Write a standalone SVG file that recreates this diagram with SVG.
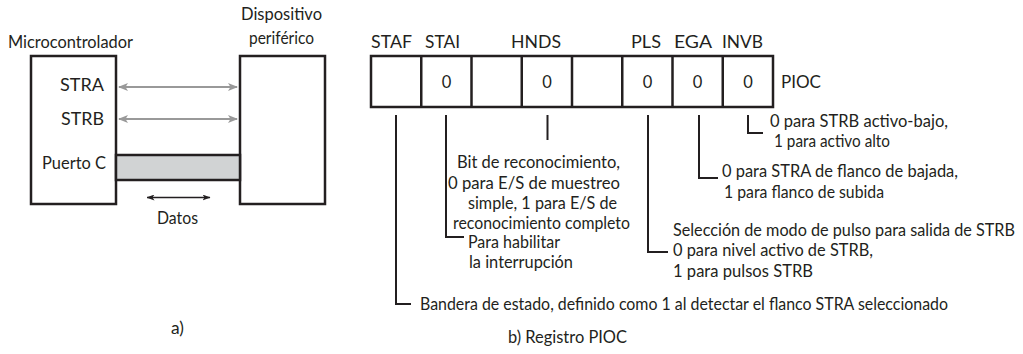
<svg xmlns="http://www.w3.org/2000/svg" width="1023" height="354" viewBox="0 0 1023 354">
<style>
text{font-family:Lato,"Open Sans","Liberation Sans",sans-serif;font-size:16.5px;fill:#231f20}
.box{fill:#fff;stroke:#231f20;stroke-width:2.5}
.cell{fill:none;stroke:#231f20;stroke-width:2.5}
.lead{fill:none;stroke:#231f20;stroke-width:2}
.garr{stroke:#999;stroke-width:2;fill:none}
.z{text-anchor:middle}
</style>
<defs>
<marker id="gh" viewBox="0 0 10 8" refX="9" refY="4" markerWidth="10" markerHeight="8" markerUnits="userSpaceOnUse" orient="auto-start-reverse">
<path d="M0,0 L10,4 L0,8 L2.5,4 Z" fill="#999"/>
</marker>
<marker id="bh" viewBox="0 0 8 6" refX="7.5" refY="3" markerWidth="8" markerHeight="6" markerUnits="userSpaceOnUse" orient="auto-start-reverse">
<path d="M0,0 L8,3 L0,6 L2,3 Z" fill="#231f20"/>
</marker>
</defs>
<rect width="1023" height="354" fill="#fff"/>

<g id="microcontrolador">
<rect class="box" x="31" y="56" width="85" height="148"/>
<text x="8" y="48" textLength="125" lengthAdjust="spacingAndGlyphs">Microcontrolador</text>
<text x="60" y="91" textLength="44" lengthAdjust="spacingAndGlyphs">STRA</text>
<text x="61" y="125" textLength="43" lengthAdjust="spacingAndGlyphs">STRB</text>
<text x="42" y="169" textLength="64" lengthAdjust="spacingAndGlyphs">Puerto C</text>
</g>
<g id="periferico">
<rect class="box" x="240" y="56" width="85" height="148"/>
<text x="241" y="20" textLength="81" lengthAdjust="spacingAndGlyphs">Dispositivo</text>
<text x="249" y="44" textLength="65" lengthAdjust="spacingAndGlyphs">periférico</text>
</g>
<g id="puerto-c-bus">
<rect x="116" y="155" width="124" height="25" fill="#d1d3d4" stroke="#231f20" stroke-width="2.5"/>
</g>
<g id="datos">
<text x="157" y="224" textLength="41" lengthAdjust="spacingAndGlyphs">Datos</text>
</g>
<g id="caption-a">
<text x="171" y="334" textLength="13" lengthAdjust="spacingAndGlyphs">a)</text>
</g>

<g id="registro-pioc">
<rect class="cell" x="371" y="56" width="402" height="51"/>
<path class="cell" d="M421.25 56V107M471.5 56V107M521.75 56V107M572 56V107M622.25 56V107M672.5 56V107M722.75 56V107"/>
<text class="z" x="446.5" y="87.5">0</text>
<text class="z" x="547" y="87.5">0</text>
<text class="z" x="647.5" y="87.5">0</text>
<text class="z" x="697.5" y="87.5">0</text>
<text class="z" x="748" y="87.5">0</text>
<text x="371" y="47.5" textLength="41" lengthAdjust="spacingAndGlyphs">STAF</text>
<text x="425" y="47.5" textLength="35" lengthAdjust="spacingAndGlyphs">STAI</text>
<text x="511" y="47.5" textLength="50" lengthAdjust="spacingAndGlyphs">HNDS</text>
<text x="631" y="47.5" textLength="30" lengthAdjust="spacingAndGlyphs">PLS</text>
<text x="674" y="47.5" textLength="38" lengthAdjust="spacingAndGlyphs">EGA</text>
<text x="722" y="47.5" textLength="41" lengthAdjust="spacingAndGlyphs">INVB</text>
<text x="781" y="88" textLength="40" lengthAdjust="spacingAndGlyphs">PIOC</text>
</g>

<g id="nota-invb">
<text x="770" y="127" textLength="178" lengthAdjust="spacingAndGlyphs">0 para STRB activo-bajo,</text>
<text x="774" y="147" textLength="116" lengthAdjust="spacingAndGlyphs">1 para activo alto</text>
</g>
<g id="nota-ega">
<text x="722" y="177" textLength="236" lengthAdjust="spacingAndGlyphs">0 para STRA de flanco de bajada,</text>
<text x="724" y="198" textLength="160" lengthAdjust="spacingAndGlyphs">1 para flanco de subida</text>
</g>
<g id="nota-pls">
<text x="673" y="236" textLength="342" lengthAdjust="spacingAndGlyphs">Selección de modo de pulso para salida de STRB</text>
<text x="673" y="256" textLength="200" lengthAdjust="spacingAndGlyphs">0 para nivel activo de STRB,</text>
<text x="673" y="277" textLength="140" lengthAdjust="spacingAndGlyphs">1 para pulsos STRB</text>
</g>
<g id="nota-hnds">
<text x="457" y="168" textLength="163" lengthAdjust="spacingAndGlyphs">Bit de reconocimiento,</text>
<text x="448" y="188.5" textLength="172" lengthAdjust="spacingAndGlyphs">0 para E/S de muestreo</text>
<text x="468" y="208.5" textLength="149" lengthAdjust="spacingAndGlyphs">simple, 1 para E/S de</text>
<text x="453" y="228.5" textLength="177" lengthAdjust="spacingAndGlyphs">reconocimiento completo</text>
</g>
<g id="nota-stai">
<text x="468" y="248" textLength="92" lengthAdjust="spacingAndGlyphs">Para habilitar</text>
<text x="469" y="268" textLength="104" lengthAdjust="spacingAndGlyphs">la interrupción</text>
</g>
<g id="nota-staf">
<text x="420" y="310" textLength="528" lengthAdjust="spacingAndGlyphs">Bandera de estado, definido como 1 al detectar el flanco STRA seleccionado</text>
</g>
<g id="caption-b">
<text x="508" y="343" textLength="119" lengthAdjust="spacingAndGlyphs">b) Registro PIOC</text>
</g>

<g id="connectors">
<line class="garr" x1="119" y1="87" x2="237" y2="87" marker-start="url(#gh)" marker-end="url(#gh)"/>
<line class="garr" x1="119" y1="119" x2="237" y2="119" marker-start="url(#gh)" marker-end="url(#gh)"/>
<line x1="147" y1="197.5" x2="210" y2="197.5" stroke="#231f20" stroke-width="1.5" marker-start="url(#bh)" marker-end="url(#bh)"/>
<path class="lead" d="M396 115V304H411"/>
<path class="lead" d="M446 115V237H464"/>
<path class="lead" d="M547.5 115V140"/>
<path class="lead" d="M648 115V252H668"/>
<path class="lead" d="M699 115V178H718"/>
<path class="lead" d="M748 115V133H763"/>
</g>
</svg>
